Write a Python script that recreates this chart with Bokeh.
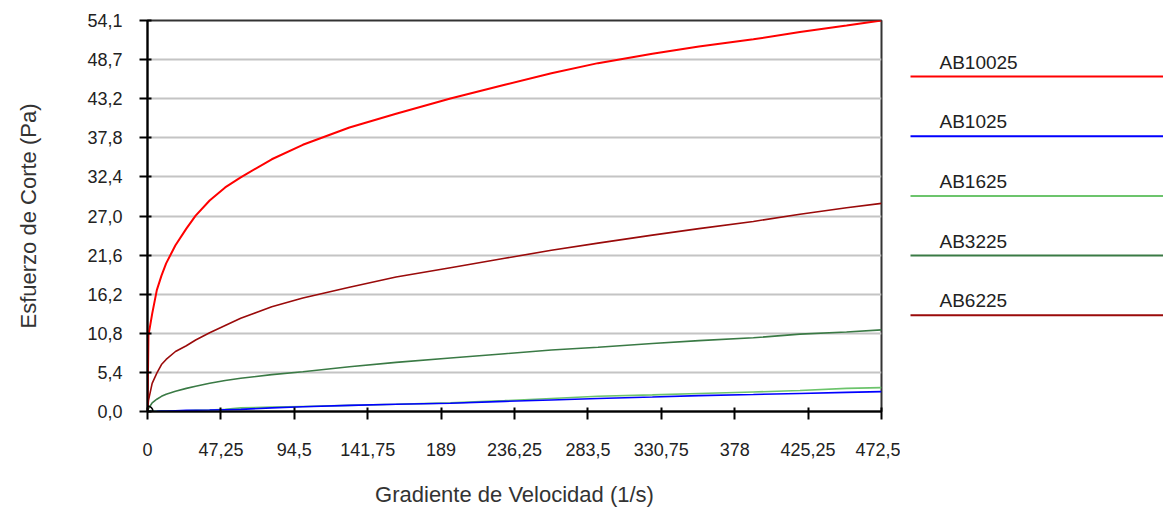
from bokeh.plotting import figure
from bokeh.models import Range1d, FixedTicker, ColumnDataSource
from bokeh.layouts import row
from bokeh.embed import file_html
from bokeh.resources import INLINE
from bokeh.core.properties import value

# Shear rate (1/s)
X = [0, 0.6, 3, 6, 9, 12, 18, 25, 31, 40, 50, 60, 80, 100, 130, 160, 195, 230,
     260, 290, 325, 355, 390, 420, 450, 472.5]

# Shear stress (Pa)
AB10025 = [0, 10.5, 13.5, 16.8, 18.8, 20.5, 23.0, 25.3, 27.1, 29.2, 31.0, 32.4, 34.9,
           36.9, 39.3, 41.2, 43.3, 45.2, 46.8, 48.2, 49.5, 50.5, 51.5, 52.5, 53.4, 54.1]
AB1025 = [0, 0, 0, 0.02, 0.05, 0.05, 0.1, 0.15, 0.18, 0.2, 0.25, 0.3, 0.5, 0.65, 0.85,
          1.0, 1.15, 1.4, 1.6, 1.8, 2.0, 2.2, 2.35, 2.5, 2.65, 2.75]
AB1625 = [0, 0.05, 0.05, 0.05, 0.1, 0.1, 0.1, 0.1, 0.15, 0.2, 0.3, 0.5, 0.6, 0.7, 0.85,
          1.0, 1.2, 1.5, 1.8, 2.1, 2.3, 2.5, 2.7, 2.9, 3.2, 3.3]
AB3225 = [0, 0.4, 1.2, 1.7, 2.1, 2.4, 2.8, 3.2, 3.5, 3.9, 4.3, 4.6, 5.1, 5.5, 6.2, 6.8,
          7.4, 8.0, 8.5, 8.9, 9.4, 9.8, 10.2, 10.7, 11.0, 11.3]
AB6225 = [0, 1.5, 3.9, 5.3, 6.5, 7.2, 8.3, 9.1, 9.9, 10.9, 11.9, 12.9, 14.5, 15.7, 17.2,
          18.6, 19.9, 21.2, 22.3, 23.3, 24.4, 25.3, 26.3, 27.3, 28.2, 28.8]

names = ["AB10025", "AB1025", "AB1625", "AB3225", "AB6225"]
series = [AB10025, AB1025, AB1625, AB3225, AB6225]
colors = ["#FF0000", "#0000FF", "#6CC46C", "#3A7A45", "#9A0A0A"]
widths = [2.0, 1.6, 1.6, 1.6, 1.6]

x_ticks = [0, 47.25, 94.5, 141.75, 189, 236.25, 283.5, 330.75, 378, 425.25, 472.5]
x_tick_labels = ["0", "47,25", "94,5", "141,75", "189", "236,25", "283,5", "330,75",
                 "378", "425,25", "472,5"]
y_ticks = [0, 5.41, 10.82, 16.23, 21.64, 27.05, 32.46, 37.87, 43.28, 48.69, 54.1]
y_tick_labels = ["0,0", "5,4", "10,8", "16,2", "21,6", "27,0", "32,4", "37,8", "43,2",
                 "48,7", "54,1"]

FONT = "Liberation Sans"
H = 512
TOP = 20
BOTTOM = H - 411

p = figure(width=900, height=H, x_range=Range1d(0, 472.5), y_range=Range1d(0, 54.1),
           output_backend="svg", toolbar_location=None,
           min_border_left=147, min_border_right=19, min_border_top=TOP,
           min_border_bottom=BOTTOM)
p.background_fill_color = "white"
p.border_fill_color = "white"
p.outline_line_color = "#333333"
p.outline_line_width = 2

p.xgrid.visible = False
p.ygrid.grid_line_color = "#c4c4c4"
p.ygrid.grid_line_width = 2

p.xaxis.ticker = FixedTicker(ticks=x_ticks)
p.xaxis.major_label_overrides = {t: l for t, l in zip(x_ticks, x_tick_labels)}
p.yaxis.ticker = FixedTicker(ticks=y_ticks)
p.yaxis.major_label_overrides = {t: l for t, l in zip(y_ticks, y_tick_labels)}

for ax in (p.xaxis[0], p.yaxis[0]):
    ax.axis_line_color = "black"
    ax.axis_line_width = 2
    ax.major_tick_line_color = "black"
    ax.major_tick_line_width = 2
    ax.major_tick_in = 4
    ax.major_tick_out = 8
    ax.minor_tick_line_color = None
    ax.major_label_text_font = FONT
    ax.major_label_text_font_size = "18px"
    ax.major_label_text_color = "#222222"
    ax.axis_label_text_font = FONT
    ax.axis_label_text_font_size = "22px"
    ax.axis_label_text_font_style = "normal"
    ax.axis_label_text_color = "#333333"

p.xaxis.axis_label = "Gradiente de Velocidad (1/s)"
p.yaxis.axis_label = "Esfuerzo de Corte (Pa)"
p.xaxis.major_label_standoff = 23
p.xaxis.axis_label_standoff = 23
p.yaxis.major_label_standoff = 17
p.yaxis.axis_label_standoff = 43

for name, ys, c, w in reversed(list(zip(names, series, colors, widths))):
    p.line(x=X, y=ys, line_color=c, line_width=w)

p.scatter(x=[X[0]], y=[AB1025[0]], marker="circle_cross", size=11,
          line_color="black", line_width=1.5, fill_color=None)

# Legend panel (frame spans the same vertical extent as the plot frame)
LH = 59.7                       # pixels between legend rows
FRAME_H = H - TOP - BOTTOM
b = (76 - TOP) / LH
leg = figure(width=263, height=H, x_range=Range1d(0, 263),
             y_range=Range1d(b - FRAME_H / LH, b),
             output_backend="svg", toolbar_location=None,
             min_border_left=0, min_border_right=0,
             min_border_top=TOP, min_border_bottom=BOTTOM)
leg.xaxis.visible = False
leg.yaxis.visible = False
leg.grid.visible = False
leg.outline_line_color = None
leg.background_fill_color = "white"
leg.border_fill_color = "white"

idx = list(range(len(names)))
src = ColumnDataSource(dict(
    y=[-i for i in idx],
    ty=[-i + 14.5 / LH for i in idx],
    x0=[10] * len(idx), x1=[263] * len(idx), tx=[39] * len(idx),
    name=names, color=colors))
leg.segment(x0="x0", y0="y", x1="x1", y1="y", line_color="color", line_width=2, source=src)
leg.text(x="tx", y="ty", text="name", text_font=value(FONT), text_font_size="19px",
         text_color="#222222", text_baseline="middle", text_align="left", source=src)

layout = row(p, leg)
open("out.html", "w").write(file_html(layout, INLINE))
